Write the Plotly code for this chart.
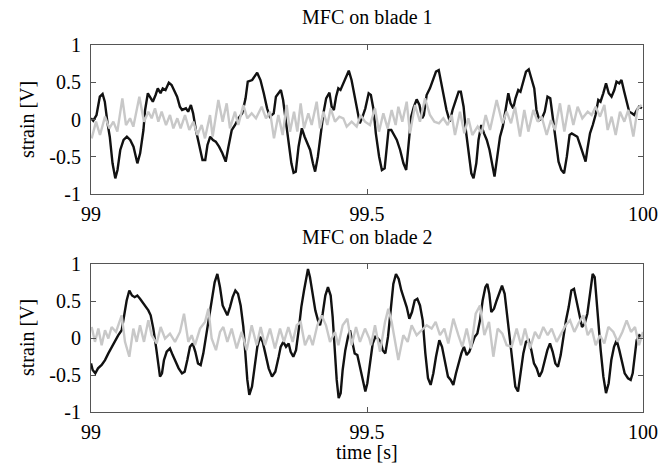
import plotly.graph_objects as go

T0 = 99.0

# ---- Panel 1: MFC on blade 1 ----
b1_t = [0.000, 0.004, 0.010, 0.016, 0.021, 0.025, 0.030, 0.034, 0.039, 0.044, 0.048, 0.053, 0.059, 0.065, 0.071,
        0.077, 0.084, 0.089, 0.095, 0.098, 0.103, 0.108, 0.112, 0.117, 0.121, 0.126, 0.130, 0.135, 0.141, 0.146,
        0.151, 0.156, 0.161, 0.165, 0.172, 0.176, 0.181, 0.185, 0.190, 0.196, 0.202, 0.207, 0.211, 0.216, 0.221,
        0.226, 0.232, 0.238, 0.244, 0.249, 0.255, 0.261, 0.267, 0.274, 0.280, 0.284, 0.292, 0.301, 0.307, 0.313,
        0.319, 0.324, 0.331, 0.335, 0.341, 0.344, 0.348, 0.353, 0.358, 0.363, 0.367, 0.371, 0.376, 0.382, 0.387,
        0.392, 0.397, 0.402, 0.406, 0.411, 0.416, 0.421, 0.426, 0.432, 0.436, 0.440, 0.444, 0.448, 0.452, 0.457,
        0.462, 0.467, 0.472, 0.476, 0.483, 0.487, 0.492, 0.497, 0.503, 0.507, 0.512, 0.516, 0.522, 0.527, 0.532,
        0.536, 0.539, 0.544, 0.549, 0.554, 0.560, 0.566, 0.571, 0.576, 0.580, 0.585, 0.590, 0.595, 0.600, 0.603,
        0.608, 0.614, 0.620, 0.625, 0.630, 0.635, 0.640, 0.644, 0.650, 0.655, 0.660, 0.666, 0.670, 0.675, 0.679,
        0.684, 0.689, 0.693, 0.698, 0.702, 0.707, 0.712, 0.717, 0.722, 0.726, 0.731, 0.736, 0.741, 0.746, 0.751,
        0.756, 0.760, 0.765, 0.769, 0.774, 0.778, 0.783, 0.788, 0.793, 0.798, 0.803, 0.807, 0.812, 0.817, 0.822,
        0.827, 0.832, 0.836, 0.841, 0.847, 0.852, 0.857, 0.862, 0.867, 0.871, 0.876, 0.881, 0.886, 0.891, 0.896,
        0.899, 0.904, 0.909, 0.914, 0.919, 0.923, 0.928, 0.933, 0.938, 0.943, 0.948, 0.952, 0.957, 0.961, 0.966,
        0.970, 0.975, 0.980, 0.984, 0.989, 0.993, 0.998]
b1_v = [0.016, -0.016, 0.06, 0.306, 0.342, 0.239, -0.051, -0.231, -0.588, -0.79, -0.678, -0.409, -0.275, -0.231, -0.275,
        -0.365, -0.588, -0.454, -0.141, 0.128, 0.352, 0.284, 0.239, 0.329, 0.418, 0.352, 0.418, 0.396, 0.494, 0.463,
        0.373, 0.306, 0.172, 0.128, 0.15, 0.105, 0.195, 0.083, -0.141, -0.365, -0.543, -0.543, -0.342, -0.231, -0.275,
        -0.298, -0.365, -0.454, -0.566, -0.365, -0.141, -0.074, 0.016, 0.083, 0.284, 0.508, 0.53, 0.629, 0.53, 0.352,
        0.15, 0.038, 0.083, 0.306, 0.373, 0.396, 0.262, -0.007, -0.275, -0.588, -0.714, -0.70, -0.365, -0.118, -0.231,
        -0.32, -0.409, -0.588, -0.70, -0.499, -0.186, 0.083, 0.284, 0.36, 0.172, 0.128, 0.306, 0.418, 0.396, 0.485,
        0.575, 0.655, 0.53, 0.373, 0.128, -0.051, 0.038, 0.15, 0.352, 0.329, 0.128, -0.186, -0.499, -0.678, -0.655,
        -0.409, -0.141, -0.141, -0.208, -0.275, -0.409, -0.588, -0.678, -0.32, 0.038, 0.172, 0.271, 0.195, 0.016, 0.06,
        0.329, 0.418, 0.53, 0.642, 0.664, 0.485, 0.306, 0.128, -0.029, 0.128, 0.239, 0.373, 0.373, 0.172, -0.141,
        -0.454, -0.723, -0.79, -0.588, -0.275, -0.074, -0.186, -0.275, -0.409, -0.588, -0.767, -0.499, -0.231, -0.096, 0.128,
        0.352, 0.217, 0.15, 0.284, 0.396, 0.373, 0.508, 0.642, 0.674, 0.553, 0.418, 0.128, -0.007, 0.016, 0.105,
        0.306, 0.284, 0.06, -0.231, -0.566, -0.678, -0.723, -0.499, -0.208, -0.186, -0.208, -0.231, -0.342, -0.454, -0.566,
        -0.409, -0.186, -0.074, 0.06, 0.262, 0.239, 0.352, 0.485, 0.352, 0.306, 0.396, 0.508, 0.485, 0.53, 0.373,
        0.239, 0.105, 0.083, 0.06, 0.128, 0.172, 0.15]

g1_t = [0.0012, 0.0091, 0.0163, 0.0254, 0.0332, 0.0405, 0.0477, 0.0568, 0.0634, 0.0707, 0.0767, 0.0876, 0.0960, 0.1039,
        0.1099, 0.1159, 0.1220, 0.1280, 0.1359, 0.1431, 0.1492, 0.1564, 0.1624, 0.1703, 0.1781, 0.1854, 0.1926, 0.2005,
        0.2065, 0.2156, 0.2204, 0.2307, 0.2385, 0.2458, 0.2518, 0.2609, 0.2669, 0.2760, 0.2832, 0.2911, 0.2989, 0.3092,
        0.3170, 0.3243, 0.3315, 0.3394, 0.3472, 0.3545, 0.3605, 0.3678, 0.3738, 0.3798, 0.3859, 0.3937, 0.3998, 0.4088,
        0.4149, 0.4209, 0.4281, 0.4342, 0.4420, 0.4499, 0.4571, 0.4632, 0.4722, 0.4813, 0.4885, 0.4964, 0.5054, 0.5145,
        0.5217, 0.5296, 0.5374, 0.5447, 0.5519, 0.5568, 0.5640, 0.5719, 0.5779, 0.5870, 0.5960, 0.6051, 0.6141, 0.6220,
        0.6304, 0.6383, 0.6461, 0.6534, 0.6594, 0.6685, 0.6763, 0.6836, 0.6908, 0.7005, 0.7077, 0.7150, 0.7228, 0.7349,
        0.7452, 0.7530, 0.7609, 0.7681, 0.7772, 0.7850, 0.7923, 0.8013, 0.8092, 0.8164, 0.8255, 0.8333, 0.8406, 0.8496,
        0.8575, 0.8659, 0.8738, 0.8816, 0.8901, 0.8998, 0.9070, 0.9143, 0.9221, 0.9300, 0.9360, 0.9432, 0.9505, 0.9583,
        0.9662, 0.9734, 0.9825, 0.9903, 0.9976]
g1_v = [-0.253, -0.029, -0.208, 0.038, -0.119, -0.029, -0.163, 0.284, -0.074, 0.016, -0.096, 0.306, -0.029, 0.105,
        0.016, 0.15, -0.029, 0.105, -0.074, 0.06, -0.119, 0.016, -0.119, 0.06, -0.141, -0.029, -0.208, -0.074,
        -0.253, 0.06, -0.23, 0.262, -0.029, 0.217, -0.119, 0.105, -0.074, 0.195, 0.016, 0.083, 0.016, 0.172,
        0.016, 0.105, -0.253, 0.06, -0.208, 0.195, -0.163, 0.105, -0.163, 0.217, -0.119, 0.083, -0.074, 0.239,
        -0.119, 0.105, -0.074, 0.15, -0.029, 0.038, 0.016, -0.096, -0.029, -0.096, 0.06, -0.03, -0.074, 0.15,
        -0.163, 0.083, -0.119, 0.128, -0.074, 0.172, -0.029, 0.239, -0.186, 0.195, -0.029, 0.284, 0.06, -0.029,
        -0.051, 0.016, -0.074, 0.06, -0.208, 0.105, -0.186, 0.016, -0.208, -0.096, -0.186, 0.06, -0.141, 0.262,
        -0.051, 0.105, -0.051, 0.172, -0.23, 0.128, -0.163, 0.128, -0.029, 0.038, -0.208, -0.007, -0.141, 0.217,
        -0.163, 0.195, -0.074, 0.172, 0.016, 0.105, 0.06, 0.172, 0.038, 0.195, -0.141, 0.038, -0.208, 0.105,
        -0.029, 0.128, -0.23, 0.15, 0.195]

# ---- Panel 2: MFC on blade 2 ----
b2_t = [0.000, 0.003, 0.0078, 0.0127, 0.0193, 0.0254, 0.0314, 0.0374, 0.0435, 0.0495, 0.0556, 0.0598, 0.0646, 0.0694,
        0.0743, 0.0791, 0.0839, 0.0888, 0.0936, 0.0984, 0.1039, 0.1081, 0.1129, 0.1178, 0.1220, 0.1250, 0.1286, 0.1322,
        0.1371, 0.1431, 0.1480, 0.1528, 0.1588, 0.1649, 0.1697, 0.1745, 0.1793, 0.1842, 0.1890, 0.1938, 0.1987, 0.2035,
        0.2095, 0.2144, 0.2192, 0.2240, 0.2289, 0.2337, 0.2385, 0.2428, 0.2470, 0.2518, 0.2566, 0.2615, 0.2663, 0.2711,
        0.2760, 0.2796, 0.2832, 0.2868, 0.2917, 0.2965, 0.3013, 0.3062, 0.3110, 0.3158, 0.3219, 0.3279, 0.3339, 0.3400,
        0.3436, 0.3484, 0.3533, 0.3581, 0.3617, 0.3665, 0.3714, 0.3762, 0.3810, 0.3859, 0.3907, 0.3931, 0.3967, 0.4016,
        0.4064, 0.4112, 0.4149, 0.4197, 0.4245, 0.4293, 0.4342, 0.4378, 0.4414, 0.4451, 0.4487, 0.4523, 0.4559, 0.4607,
        0.4656, 0.4692, 0.4728, 0.4777, 0.4825, 0.4873, 0.4922, 0.4970, 0.5006, 0.5054, 0.5103, 0.5151, 0.5199, 0.5248,
        0.5284, 0.5332, 0.5380, 0.5429, 0.5477, 0.5525, 0.5574, 0.5622, 0.5670, 0.5719, 0.5767, 0.5815, 0.5864, 0.5912,
        0.5960, 0.6009, 0.6057, 0.6105, 0.6153, 0.6202, 0.6250, 0.6310, 0.6359, 0.6419, 0.6467, 0.6516, 0.6564, 0.6612,
        0.6661, 0.6709, 0.6757, 0.6806, 0.6854, 0.6902, 0.6951, 0.6999, 0.7047, 0.7095, 0.7144, 0.7180, 0.7216, 0.7252,
        0.7301, 0.7349, 0.7397, 0.7446, 0.7494, 0.7542, 0.7591, 0.7639, 0.7687, 0.7736, 0.7784, 0.7832, 0.7880, 0.7929,
        0.7977, 0.8025, 0.8074, 0.8122, 0.8170, 0.8219, 0.8267, 0.8315, 0.8364, 0.8412, 0.8460, 0.8509, 0.8557, 0.8605,
        0.8654, 0.8702, 0.8750, 0.8798, 0.8847, 0.8895, 0.8943, 0.8992, 0.9040, 0.9088, 0.9125, 0.9161, 0.9197, 0.9233,
        0.9282, 0.9330, 0.9378, 0.9426, 0.9475, 0.9523, 0.9571, 0.9620, 0.9668, 0.9728, 0.9777, 0.9813, 0.9849, 0.9885,
        0.9934, 0.9982]
b2_v = [-0.343, -0.432, -0.477, -0.41, -0.365, -0.298, -0.208, -0.119, -0.03, 0.038, 0.105, 0.284, 0.507, 0.642,
        0.574, 0.552, 0.574, 0.53, 0.485, 0.44, 0.373, 0.306, 0.127, -0.119, -0.388, -0.522, -0.477, -0.298,
        -0.186, -0.141, -0.231, -0.32, -0.41, -0.477, -0.455, -0.298, -0.119, -0.074, -0.186, -0.343, -0.365, -0.208,
        0.06, 0.328, 0.552, 0.753, 0.865, 0.686, 0.44, 0.373, 0.306, 0.418, 0.552, 0.642, 0.597, 0.44,
        0.149, -0.208, -0.566, -0.768, -0.656, -0.388, -0.119, 0.015, -0.052, -0.208, -0.41, -0.522, -0.455, -0.253,
        -0.119, -0.052, -0.119, -0.074, -0.186, -0.253, -0.164, 0.105, 0.418, 0.642, 0.865, 0.932, 0.821, 0.574,
        0.373, 0.239, 0.172, 0.328, 0.574, 0.686, 0.574, 0.284, -0.164, -0.566, -0.812, -0.745, -0.432, -0.164,
        0.015, 0.105, -0.03, -0.208, -0.231, -0.388, -0.566, -0.723, -0.611, -0.343, -0.074, 0.015, -0.007, -0.052,
        -0.164, -0.208, 0.015, 0.373, 0.731, 0.865, 0.798, 0.642, 0.53, 0.418, 0.261, 0.351, 0.507, 0.53,
        0.44, 0.239, -0.208, -0.544, -0.634, -0.477, -0.253, -0.03, -0.119, -0.343, -0.522, -0.566, -0.634, -0.477,
        -0.343, -0.208, -0.119, -0.231, -0.186, -0.074, 0.015, 0.06, 0.239, 0.507, 0.686, 0.731, 0.597, 0.351,
        0.396, 0.507, 0.597, 0.709, 0.597, 0.284, -0.03, -0.388, -0.656, -0.723, -0.477, -0.208, -0.052, -0.03,
        -0.164, -0.343, -0.41, -0.522, -0.455, -0.32, -0.164, -0.074, -0.186, -0.343, -0.388, -0.231, 0.015, 0.239,
        0.418, 0.642, 0.664, 0.485, 0.284, 0.149, 0.194, 0.328, 0.597, 0.865, 0.821, 0.463, 0.105, -0.164,
        -0.522, -0.745, -0.611, -0.298, -0.119, -0.03, -0.164, -0.343, -0.477, -0.544, -0.566, -0.477, -0.253, -0.03,
        0.038, 0.015]

g2_t = [0.0012, 0.0072, 0.0133, 0.0193, 0.0254, 0.0314, 0.0374, 0.0453, 0.0556, 0.0616, 0.0694, 0.0767, 0.0827, 0.0888,
        0.0960, 0.1039, 0.1099, 0.1190, 0.1262, 0.1341, 0.1431, 0.1522, 0.1612, 0.1685, 0.1763, 0.1824, 0.1884, 0.1975,
        0.2065, 0.2126, 0.2186, 0.2264, 0.2337, 0.2397, 0.2470, 0.2548, 0.2639, 0.2730, 0.2820, 0.2911, 0.3001, 0.3074,
        0.3152, 0.3243, 0.3333, 0.3424, 0.3496, 0.3575, 0.3653, 0.3726, 0.3798, 0.3877, 0.3955, 0.4016, 0.4100, 0.4179,
        0.4257, 0.4330, 0.4420, 0.4481, 0.4559, 0.4644, 0.4722, 0.4801, 0.4873, 0.4964, 0.5042, 0.5072, 0.5145, 0.5236,
        0.5326, 0.5386, 0.5447, 0.5568, 0.5658, 0.5737, 0.5809, 0.5900, 0.5990, 0.6081, 0.6171, 0.6244, 0.6322, 0.6401,
        0.6473, 0.6564, 0.6655, 0.6727, 0.6806, 0.6884, 0.6969, 0.7047, 0.7126, 0.7210, 0.7289, 0.7367, 0.7452, 0.7530,
        0.7621, 0.7711, 0.7790, 0.7862, 0.7953, 0.8043, 0.8116, 0.8194, 0.8273, 0.8345, 0.8436, 0.8527, 0.8599, 0.8678,
        0.8756, 0.8829, 0.8919, 0.8998, 0.9070, 0.9143, 0.9221, 0.9300, 0.9372, 0.9463, 0.9541, 0.9626, 0.9704, 0.9783,
        0.9855, 0.9928, 1.0000]
g2_v = [0.149, -0.052, 0.127, -0.097, 0.105, -0.007, 0.149, 0.082, 0.306, -0.052, -0.253, 0.127, -0.052, 0.172,
        -0.052, 0.239, 0.038, -0.074, 0.149, -0.007, 0.06, -0.052, 0.082, 0.328, -0.052, 0.038, -0.097, 0.127,
        0.217, 0.396, -0.007, -0.164, 0.082, 0.149, -0.052, 0.127, -0.141, 0.082, -0.164, 0.172, -0.097, 0.149,
        -0.097, 0.127, -0.141, 0.127, -0.052, 0.149, -0.052, 0.172, 0.217, -0.097, 0.038, -0.097, 0.172, 0.306,
        0.172, -0.052, 0.082, -0.097, 0.172, 0.261, -0.097, 0.149, -0.052, 0.127, -0.007, -0.097, 0.172, -0.186,
        0.217, 0.396, 0.217, -0.298, 0.038, -0.052, 0.172, 0.038, 0.105, 0.172, 0.127, 0.217, 0.038, 0.127,
        -0.074, 0.261, 0.038, -0.119, 0.127, -0.141, 0.328, 0.44, 0.038, 0.217, -0.253, 0.127, 0.06, -0.097,
        -0.119, 0.127, -0.097, 0.127, -0.141, 0.082, -0.007, 0.149, 0.038, 0.127, -0.052, 0.082, 0.172, 0.239,
        0.082, 0.194, 0.306, 0.038, 0.127, -0.097, 0.038, -0.074, 0.149, 0.082, -0.052, 0.082, 0.239, 0.082,
        0.149, -0.097, 0.082]

titles = ["MFC on blade 1", "MFC on blade 2"]
y_label = "strain [V]"
x_label = "time [s]"
x_ticks = [99, 99.5, 100]
x_ticktext = ["99", "99.5", "100"]
y_ticks = [-1, -0.5, 0, 0.5, 1]
y_ticktext = ["-1", "-0.5", "0", "0.5", "1"]

BLACK = "#111111"
GRAY = "#c8c8c8"
FONT = "Liberation Serif"
FS = 20

fig = go.Figure()
panels = [(b1_t, b1_v, g1_t, g1_v, "x", "y"), (b2_t, b2_v, g2_t, g2_v, "x2", "y2")]
for bt, bv, gt, gv, xa, ya in panels:
    fig.add_trace(go.Scatter(x=[T0 + t for t in bt], y=bv, mode="lines",
                             line=dict(color=BLACK, width=2.4), xaxis=xa, yaxis=ya, showlegend=False))
    fig.add_trace(go.Scatter(x=[T0 + t for t in gt], y=gv, mode="lines",
                             line=dict(color=GRAY, width=2.4), xaxis=xa, yaxis=ya, showlegend=False))

W, H = 660, 468
xdom = [91 / W, 643 / W]
ydom1 = [1 - 194 / H, 1 - 45 / H]
ydom2 = [1 - 412 / H, 1 - 264 / H]

axis_common = dict(showline=True, linecolor="#555555", linewidth=1, mirror="ticks",
                   ticks="inside", ticklen=5, tickcolor="#555555", showgrid=False, zeroline=False,
                   automargin=False, tickfont=dict(family=FONT, size=FS, color="black"))

fig.update_layout(
    width=W, height=H, margin=dict(l=0, r=0, t=0, b=0, pad=0, autoexpand=False),
    paper_bgcolor="white", plot_bgcolor="white",
    font=dict(family=FONT, size=FS, color="black"),
    xaxis=dict(domain=xdom, range=[99, 100], anchor="y", tickvals=x_ticks, ticktext=x_ticktext,
               ticklabelstandoff=2, **axis_common),
    yaxis=dict(domain=ydom1, range=[-1, 1], anchor="x", tickvals=y_ticks, ticktext=y_ticktext,
               ticklabelstandoff=5, **axis_common),
    xaxis2=dict(domain=xdom, range=[99, 100], anchor="y2", tickvals=x_ticks, ticktext=x_ticktext,
                ticklabelstandoff=2, **axis_common),
    yaxis2=dict(domain=ydom2, range=[-1, 1], anchor="x2", tickvals=y_ticks, ticktext=y_ticktext,
                ticklabelstandoff=5, **axis_common),
)

ann = []
ann.append(dict(text=titles[0], x=367 / W, y=1 - 17 / H, xref="paper", yref="paper",
                xanchor="center", yanchor="middle", showarrow=False, font=dict(family=FONT, size=FS)))
ann.append(dict(text=titles[1], x=367 / W, y=1 - 237 / H, xref="paper", yref="paper",
                xanchor="center", yanchor="middle", showarrow=False, font=dict(family=FONT, size=FS)))
for yc in [1 - 120 / H, 1 - 338 / H]:
    ann.append(dict(text=y_label, x=27 / W, y=yc, xref="paper", yref="paper", textangle=-90,
                    xanchor="center", yanchor="middle", showarrow=False, font=dict(family=FONT, size=FS)))
ann.append(dict(text=x_label, x=367 / W, y=1 - 452 / H, xref="paper", yref="paper",
                xanchor="center", yanchor="middle", showarrow=False, font=dict(family=FONT, size=FS)))
fig.update_layout(annotations=ann)

fig.write_html("out.html", post_script="document.body.style.margin='0px';document.body.style.overflow='hidden';")
